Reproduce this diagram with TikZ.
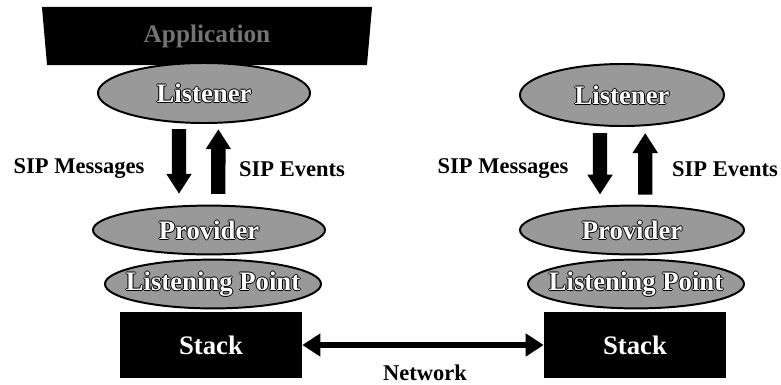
\documentclass[tikz,border=0pt]{standalone}
\usepackage{fontspec}
\setmainfont{Liberation Serif}
\usepackage{tikz}
\usetikzlibrary{arrows.meta}
\usetikzlibrary{shapes}
\usetikzlibrary{positioning}

% light letters with a dark rim, centred in a zero-width box
\newcommand{\elltext}[1]{\makebox[0pt]{%
    \makebox[0pt]{\color{black}\hspace*{1.4pt}#1}%
    \makebox[0pt]{\color{black}#1\hspace*{1.4pt}}%
    \makebox[0pt]{\raisebox{0.7pt}{\color{black}#1}}%
    \makebox[0pt]{\raisebox{-0.7pt}{\color{black}#1}}%
    \makebox[0pt]{\color{white}#1}}}

\begin{document}
\begin{tikzpicture}[x=0.025cm, y=-0.025cm]
            \tikzset{every node/.style={font=\fontsize{16pt}{18pt}\selectfont\bfseries},
                    layer/.style={ellipse, draw=black, line width=1.4pt, fill=gray!80,
                        text=white, inner sep=0pt, minimum height=1.22cm,
                        font=\fontsize{19pt}{21pt}\selectfont\bfseries},
                    stackbox/.style={rectangle, fill=black, text=white, inner sep=0pt,
                        minimum width=4.55cm, minimum height=1.65cm,
                        font=\fontsize{19pt}{21pt}\selectfont\bfseries},
                    appbox/.style={trapezium, trapezium angle=85, shape border rotate=180,
                        fill=black, text=black!55, inner sep=0pt,
                        minimum width=3.95cm, minimum height=1.45cm,
                        font=\fontsize{18pt}{20pt}\selectfont\bfseries},
                    bigarrow/.style={line width=0.36cm, -{Triangle[width=0.6cm, length=0.5cm]}},
                    netarrow/.style={line width=0.13cm, {Triangle[width=0.55cm, length=0.45cm]}-{Triangle[width=0.55cm, length=0.45cm]}}}
            \useasboundingbox (0,0) rectangle (781,384);
            % left side
            \node[appbox] (app) at (207,36) {Application};
            \node[layer, minimum width=5.3cm, minimum height=1.5cm] (lisL) at (204,93) {\elltext{Listener}};
            \node[layer, minimum width=5.8cm] (provL) at (209,230) {\elltext{Provider}};
            \node[layer, minimum width=5.4cm] (lpL) at (213,284) {\elltext{Listening Point}};
            \node[stackbox] (stackL) at (211,345) {Stack};
            % right side
            \node[layer, minimum width=5.1cm, minimum height=1.55cm] (lisR) at (622,95) {\elltext{Listener}};
            \node[layer, minimum width=5.6cm] (provR) at (632,230) {\elltext{Provider}};
            \node[layer, minimum width=5.4cm] (lpR) at (636,284) {\elltext{Listening Point}};
            \node[stackbox] (stackR) at (635,345) {Stack};
            % labels
            \node (msgL) at (79,169) {SIP Messages};
            \node (evtL) at (292,169) {SIP Events};
            \node (msgR) at (503,169) {SIP Messages};
            \node (evtR) at (725,169) {SIP Events};
            \node (net) at (425,373) {Network};
            % arrows
            \draw[bigarrow] ([xshift=-0.625cm, yshift=-0.13cm]lisL.south) -- ([xshift=-0.75cm, yshift=0.27cm]provL.north);
            \draw[bigarrow] ([xshift=0.23cm, yshift=0.27cm]provL.north) -- ([xshift=0.36cm, yshift=-0.13cm]lisL.south);
            \draw[bigarrow] ([xshift=-0.55cm, yshift=-0.15cm]lisR.south) -- ([xshift=-0.8cm, yshift=0.25cm]provR.north);
            \draw[bigarrow] ([xshift=0.33cm, yshift=0.25cm]provR.north) -- ([xshift=0.58cm, yshift=-0.15cm]lisR.south);
            \draw[netarrow] (stackL.east) -- (stackR.west);
        \end{tikzpicture}
\end{document}
